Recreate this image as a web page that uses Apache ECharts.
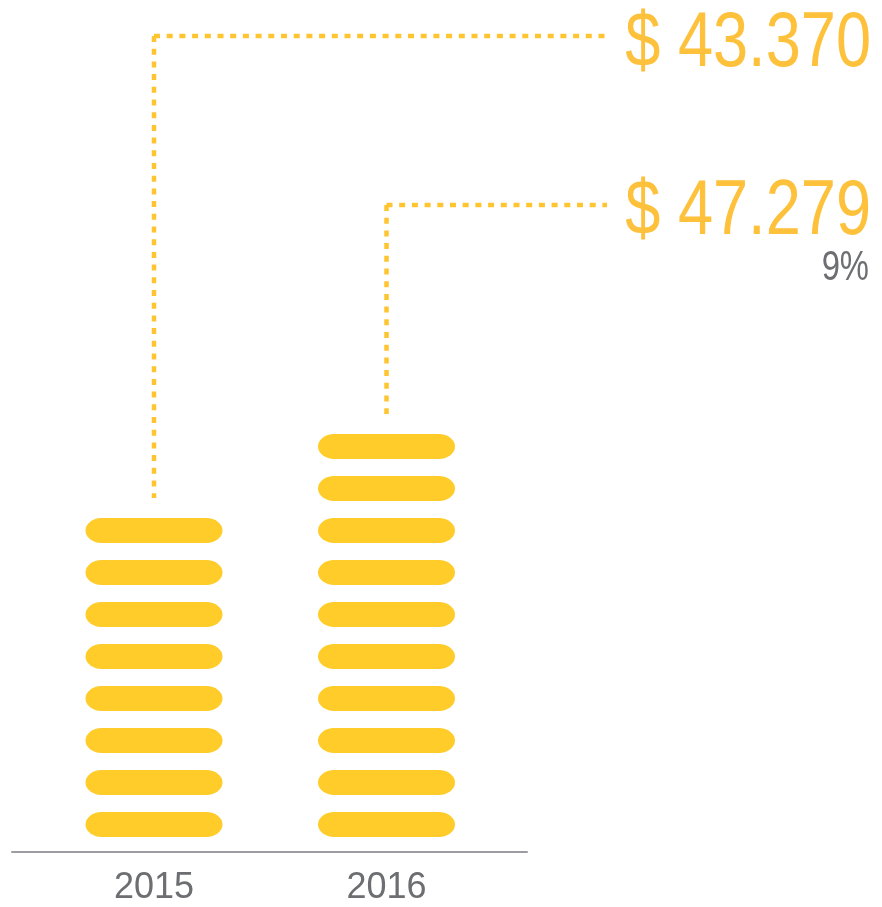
<!DOCTYPE html>
<html><head><meta charset="utf-8">
<script src="https://cdn.jsdelivr.net/npm/echarts@6/dist/echarts.min.js"></script>
<style>html,body{margin:0;padding:0;background:#fff}#c{width:882px;height:907px}</style>
</head><body><div id="c"></div>
<script>
// ---- data ----
const years = ['2015', '2016'];
const amounts = ['$ 43.370', '$ 47.279'];
const growth = ['', '9%'];
const coinCounts = [8, 10];

// ---- style / layout ----
const FONT = "'Liberation Sans', Arial, sans-serif";
const COIN = '#FFCC29', GOLD = '#FDC13C', DOT = '#FEC530', GRAY = '#6D6E71';
const pill = 'path://M16,0H121A16,12.5 0 0 1 121,25H16A16,12.5 0 0 1 16,0Z';
const labelLevels = [36, 205];
const labelCenters = [45, 213];
const labelRight = 871;
const lineEndX = 607;

const chart = echarts.init(document.getElementById('c'), null, {renderer: 'canvas'});
chart.setOption({
  animation: false,
  grid: [
    {left: 12, width: 515, top: 12, bottom: 55},
    {left: 37.75, width: 465, top: 12, bottom: 55}
  ],
  xAxis: [
    {gridIndex: 0, type: 'category', data: years, axisLine: {lineStyle: {color: '#9C9DA1', width: 2}}, axisTick: {show: false}, axisLabel: {show: false}},
    {gridIndex: 1, type: 'category', data: years, axisLine: {show: false}, axisTick: {show: false},
      axisLabel: {color: GRAY, fontSize: 36, fontFamily: FONT, margin: 18}}
  ],
  yAxis: [
    {gridIndex: 0, type: 'value', min: 0, max: 20, show: false},
    {gridIndex: 1, type: 'value', min: 0, max: 20, show: false}
  ],
  series: [{
    type: 'pictorialBar', xAxisIndex: 1, yAxisIndex: 1,
    data: coinCounts,
    symbol: pill, symbolSize: [137, 25], symbolRepeat: true, symbolMargin: '8.5!',
    symbolOffset: [0, -6.5],
    itemStyle: {color: COIN}
  }]
});

const graphics = [];
years.forEach((y, i) => {
  const topPt = chart.convertToPixel({gridIndex: 1}, [i, coinCounts[i]]);
  const x = topPt[0];
  const coinTop = topPt[1] + 2;
  const lvl = labelLevels[i];
  graphics.push({
    type: 'polyline',
    shape: {points: [[x, lvl], [x, coinTop - 20]]},
    style: {stroke: DOT, lineWidth: 4.5, lineDash: [6, 6.7], fill: null}
  });
  graphics.push({
    type: 'polyline',
    shape: {points: [[x, lvl], [lineEndX, lvl]]},
    style: {stroke: DOT, lineWidth: 4.5, lineDash: [6, 6.7], fill: null}
  });
  graphics.push({
    type: 'text', x: labelRight, y: labelCenters[i], scaleX: 0.82,
    style: {text: amounts[i], fill: GOLD, fontSize: 77, fontFamily: FONT, align: 'right', verticalAlign: 'middle'}
  });
  if (growth[i]) {
    graphics.push({
      type: 'text', x: labelRight - 2, y: labelCenters[i] + 55, scaleX: 0.78,
      style: {text: growth[i], fill: GRAY, fontSize: 42, fontFamily: FONT, align: 'right', verticalAlign: 'middle'}
    });
  }
});
chart.setOption({graphic: graphics});
</script></body></html>
